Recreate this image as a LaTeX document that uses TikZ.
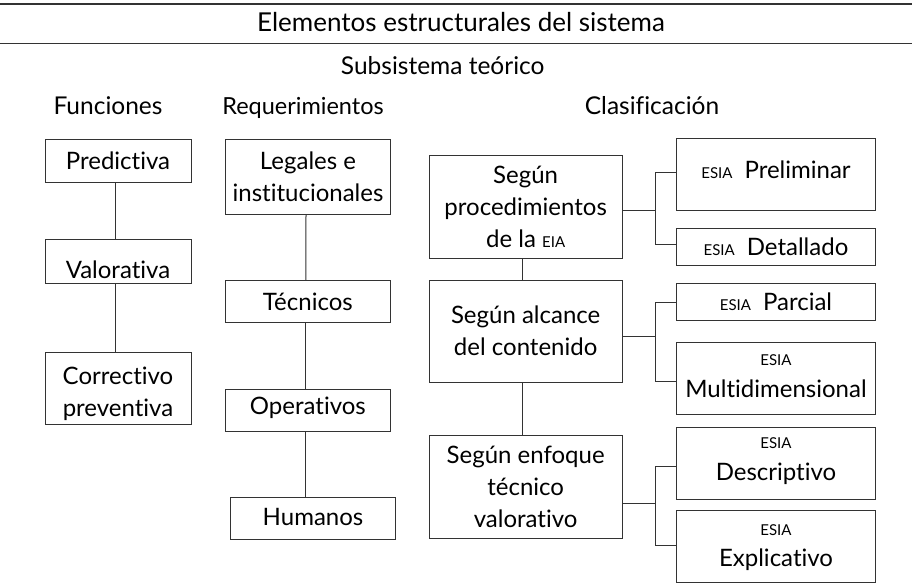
\documentclass[tikz,border=0pt]{standalone}
\usepackage{fontspec}
\setmainfont{Lato}[Ligatures={NoCommon,NoRequired,NoContextual}]
\newcommand\smc[1]{{\fontsize{15}{15}\selectfont #1}}
\newcommand\bxt[3][0pt]{\raisebox{#1}[\height][\depth]{\parbox{#2}{\centering\fontsize{24}{31.7}\selectfont #3}}}
\begin{document}
\begin{tikzpicture}[x=1pt,y=-1pt,
  ln/.style={draw=black!80, line width=1pt},
  bx/.style={draw=black!80, line width=1pt, rectangle, inner sep=0pt, text=black},
  hdr/.style={anchor=base, inner sep=0pt, font=\fontsize{24.5}{28}\selectfont, text=black}]
\useasboundingbox (0,0) rectangle (912,583);
% header
\coordinate (r1a) at (0,4); \coordinate (r1b) at (912,4);
\coordinate (r2a) at (0,43.7); \coordinate (r2b) at (912,43.7);
\draw[ln, line width=1.3pt] (r1a) -- (r1b);
\draw[ln, line width=1.3pt] (r2a) -- (r2b);
\node[hdr, font=\fontsize{26}{28}\selectfont] (title) at (461,32) {Elementos estructurales del sistema};
\node[hdr] (sub) at (442.7,75) {Subsistema teórico};
\node[hdr] (fun) at (108,115) {Funciones};
\node[hdr, font=\fontsize{23.5}{28}\selectfont] (req) at (303,115) {Requerimientos};
\node[hdr] (cla) at (652,115) {Clasificación};
% Funciones
\node[bx, minimum width=146pt, minimum height=43pt] (pred) at (118,160.8) {\bxt{144pt}{Predictiva}};
\node[bx, minimum width=146pt, minimum height=43.3pt] (val) at (118,261.35) {\bxt[-8pt]{144pt}{Valorativa}};
\node[bx, minimum width=146pt, minimum height=72pt] (corr) at (118,388) {\bxt[-6pt]{144pt}{Correctivo\\preventiva}};
% Requerimientos
\node[bx, minimum width=164.6pt, minimum height=74.7pt] (leg) at (308,176.65) {\bxt{162pt}{Legales e\\institucionales}};
\node[bx, minimum width=164.3pt, minimum height=41.6pt] (tec) at (307.85,301.5) {\bxt{162pt}{Técnicos}};
\node[bx, minimum width=164.3pt, minimum height=41.3pt] (ope) at (307.85,410.35) {\bxt[3pt]{162pt}{Operativos}};
\node[bx, minimum width=164.6pt, minimum height=41.6pt] (hum) at (313,518.5) {\bxt[2pt]{162pt}{Humanos}};
% Clasificacion
\node[bx, minimum width=193.3pt, minimum height=102.3pt] (proc) at (525.65,206.85) {\bxt{191pt}{Según\\procedimientos\\de la \smc{EIA}}};
\node[bx, minimum width=193.3pt, minimum height=102pt] (alc) at (525.65,331) {\bxt{191pt}{Según alcance\\del contenido}};
\node[bx, minimum width=193.3pt, minimum height=102.3pt] (enf) at (525.65,486.85) {\bxt{191pt}{Según enfoque\\técnico\\valorativo}};
\node[bx, minimum width=199.4pt, minimum height=71.7pt] (prel) at (776,174.15) {\bxt[4pt]{197pt}{\smc{ESIA}\hspace{0.5em}Preliminar}};
\node[bx, minimum width=199.4pt, minimum height=37pt] (det) at (776,246.8) {\bxt{197pt}{\smc{ESIA}\hspace{0.5em}Detallado}};
\node[bx, minimum width=199.4pt, minimum height=37.4pt] (par) at (776,302) {\bxt{197pt}{\smc{ESIA}\hspace{0.5em}Parcial}};
\node[bx, minimum width=199.4pt, minimum height=71.3pt] (mul) at (776,378.35) {\bxt[2pt]{197pt}{\smc{ESIA}\\Multidimensional}};
\node[bx, minimum width=199.4pt, minimum height=72pt] (des) at (776,463.3) {\bxt[2pt]{197pt}{\smc{ESIA}\\Descriptivo}};
\node[bx, minimum width=199.4pt, minimum height=71.6pt] (exp) at (776,546.5) {\bxt[-1pt]{197pt}{\smc{ESIA}\\Explicativo}};
% connectors
\draw[ln] ([xshift=-2.7pt]pred.south) -- ([xshift=-2.7pt]val.north);
\draw[ln] ([xshift=-2.7pt]val.south) -- ([xshift=-2.7pt]corr.north);
\draw[ln] ([xshift=-2pt]leg.south) -- ([xshift=-2pt]tec.north);
\draw[ln] ([xshift=-2pt]tec.south) -- ([xshift=-2pt]ope.north);
\draw[ln] ([xshift=-2pt]ope.south) -- ([xshift=-2pt]ope.south |- hum.north);
\draw[ln] ([xshift=-3.6pt]proc.south) -- ([xshift=-3.6pt]alc.north);
\draw[ln] ([xshift=-3.6pt]alc.south) -- ([xshift=-3.6pt]enf.north);
\coordinate (j1) at (655,210);
\coordinate (j2) at (655,336.7);
\coordinate (j3) at (655,503.3);
\draw[ln] (proc.east |- j1) -- (j1);
\draw[ln] ([yshift=1.5pt]prel.west) -| (j1) |- ([yshift=2pt]det.west);
\draw[ln] (alc.east |- j2) -- (j2);
\draw[ln] (par.west) -| (j2) |- ([yshift=-3pt]mul.west);
\draw[ln] (enf.east |- j3) -- (j3);
\draw[ln] ([yshift=-3.3pt]des.west) -| (j3) |- ([yshift=0.8pt]exp.west);
\end{tikzpicture}
\end{document}
